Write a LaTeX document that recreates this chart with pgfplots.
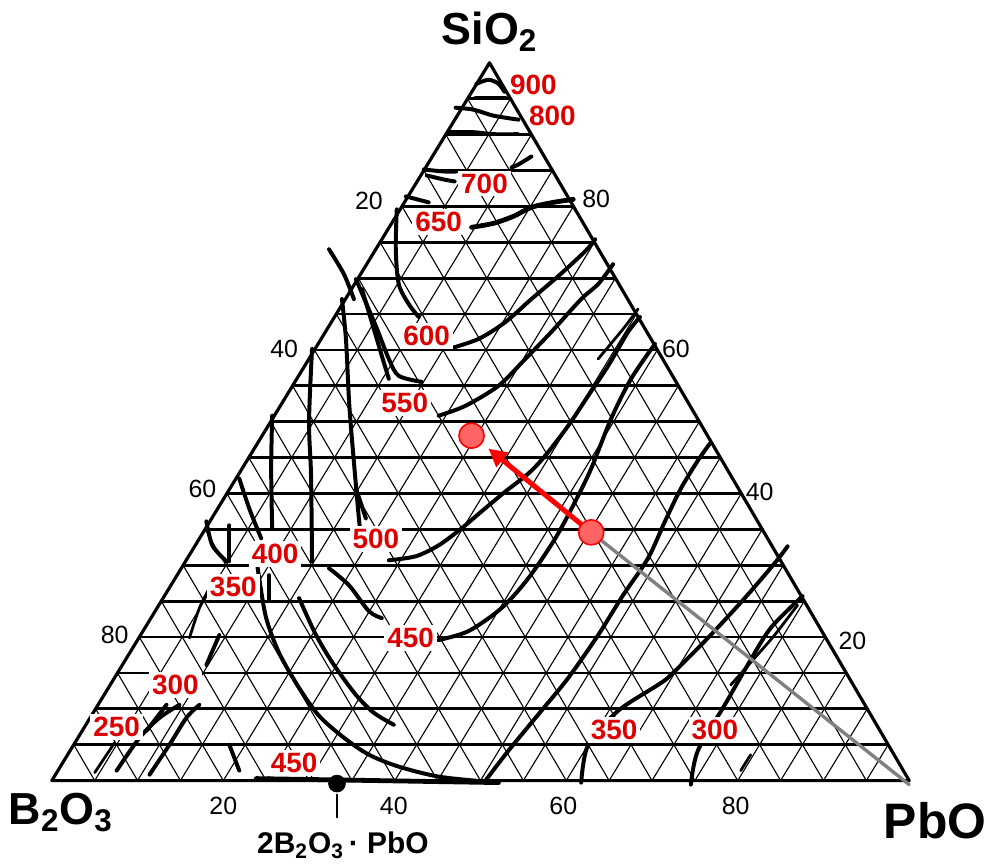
\documentclass[border=0pt]{standalone}
\usepackage{pgfplots}
\pgfplotsset{compat=1.18}
\usepackage{fontspec}
\setmainfont{Liberation Sans}
\usetikzlibrary{arrows.meta}
\definecolor{tred}{RGB}{220,0,0}
\definecolor{mfill}{RGB}{255,100,100}
\begin{document}
\begin{tikzpicture}
\begin{axis}[scale only axis, width=496.5pt, height=432.5pt,
  xmin=0, xmax=993, ymin=0, ymax=865, y dir=reverse, hide axis, clip=false,
  every axis plot/.append style={line cap=round, line join=round}]
\addplot[draw=none, forget plot] coordinates {(0,0) (993,865)};
% grid: thin diagonals, thick horizontals
\pgfplotsinvokeforeach{1,...,19}{
  \draw[black, line width=0.55pt] (axis cs:{52+43*#1},783) -- (axis cs:{491+21.05*#1},{63+36*#1});
  \draw[black, line width=0.55pt] (axis cs:{52+43*#1},783) -- (axis cs:{52+21.95*#1},{783-36*#1});
  \draw[black, line width=1.4pt] (axis cs:{52+21.95*#1},{783-36*#1}) -- (axis cs:{912-21.05*#1},{783-36*#1});
}
\draw[black, line width=1.6pt, line join=round] (axis cs:52,783) -- (axis cs:491,63) -- (axis cs:912,783) -- cycle;
% contour curves (isotherms)
\pgfplotsset{iso/.style={black, line width=2pt, smooth, tension=0.5, forget plot}}
\addplot[iso] coordinates {(478,84) (490,80) (500,84) (506,92)};
\addplot[iso] coordinates {(477,98) (507,98)};
\addplot[iso] coordinates {(457,108) (475,110) (495,116) (520,120)};
\addplot[iso, line width=1.4pt] coordinates {(450,132) (475,132) (495,134) (520,134)};
\addplot[iso] coordinates {(425,170) (445,172) (458,172)};
\addplot[iso] coordinates {(428,176) (445,180) (456,182)};
\addplot[iso] coordinates {(513,168) (520,165) (533,157)};
\addplot[iso] coordinates {(407,197) (430,203)};
\addplot[iso, line width=2.4pt] coordinates {(473,228) (495,224) (515,217) (533,208) (555,203) (575,200)};
% upper left near-vertical curves
\addplot[iso] coordinates {(398,210) (397,250) (400,285) (410,305) (420,318)};
\addplot[iso] coordinates {(357,280) (377,327) (390,360) (400,377) (423,383)};
\addplot[iso] coordinates {(363,290) (375,330) (383,357) (390,380)};
\addplot[iso] coordinates {(343,300) (347,340) (350,400) (353,440) (360,520) (363,545)};
\addplot[iso] coordinates {(313,350) (310,423) (312,477) (313,563)};
\addplot[iso] coordinates {(273,417) (272,470) (273,530)};
\addplot[iso] coordinates {(357,490) (367,520)};
\addplot[iso] coordinates {(330,250) (345,275) (355,300)};
\addplot[iso] coordinates {(240,480) (250,510) (262,540)};
% right-hand isotherms
\addplot[iso] coordinates {(450,350) (480,340) (507,323) (533,300) (560,277) (587,252) (597,240)};
\addplot[iso] coordinates {(440,417) (467,407) (500,387) (527,360) (553,333) (583,300) (600,285) (615,265)};
\addplot[iso] coordinates {(390,562) (417,558) (440,547) (463,530) (483,513) (507,493) (530,475) (547,457) (570,427) (590,397) (610,367) (630,333) (642,318)};
\addplot[iso] coordinates {(440,642) (470,633) (503,610) (530,580) (557,540) (577,503) (593,470) (613,420) (633,380) (657,345)};
\addplot[iso] coordinates {(487,783) (510,753) (543,713) (570,680) (600,637) (625,597) (650,560) (667,523) (683,490) (700,462) (712,445)};
\addplot[iso] coordinates {(583,785) (590,747) (620,713) (660,687) (673,677) (710,640) (747,600) (777,565) (790,548)};
\addplot[iso] coordinates {(693,787) (700,753) (727,707) (750,667) (773,630) (805,598)};
\addplot[iso, line width=1.4pt] coordinates {(733,687) (757,660) (777,637) (800,607)};
\addplot[iso, line width=1.4pt] coordinates {(743,773) (753,757)};
\addplot[iso, line width=1.4pt] coordinates {(600,360) (625,330) (640,310)};
% lower-left curves
\addplot[iso] coordinates {(255,545) (260,580) (267,620) (280,655) (300,690) (320,718) (345,740) (370,757) (400,769) (440,779) (487,784)};
\addplot[iso] coordinates {(300,600) (317,637) (335,667) (357,697) (375,715) (395,727)};
\addplot[iso] coordinates {(330,570) (350,587) (370,613) (383,620)};
\addplot[iso] coordinates {(230,527) (230,563)};
\addplot[iso] coordinates {(207,523) (213,547) (227,563)};
\addplot[iso] coordinates {(270,577) (270,603)};
\addplot[iso] coordinates {(207,667) (220,637)};
\addplot[iso] coordinates {(147,733) (167,707)};
\addplot[iso] coordinates {(117,773) (140,740) (160,720) (180,707)};
\addplot[iso] coordinates {(150,777) (170,747) (187,720) (200,707)};
\addplot[iso] coordinates {(230,747) (240,773)};
\addplot[iso, line width=1.4pt] coordinates {(190,640) (200,610) (210,590)};
\addplot[iso, line width=1.4pt] coordinates {(95,775) (105,760) (115,745)};
% compound line on base
\addplot[black, line width=2.4pt, forget plot] coordinates {(257,781) (500,785)};
\addplot[only marks, mark=*, mark size=4.2pt, black, forget plot] coordinates {(338,786)};
\addplot[black, line width=0.9pt, forget plot] coordinates {(338,797) (338,820)};
% gray line and red arrow
\addplot[gray, line width=1.7pt, forget plot] coordinates {(593,534) (912,787)};
\addplot[red, line width=2.5pt, -{Triangle[length=9pt, width=9pt]}, forget plot] coordinates {(593,534) (490,450)};
\addplot[only marks, mark=*, mark size=6.3pt, mark options={fill=mfill, draw=red, line width=0.8pt}, forget plot] coordinates {(473,437) (593,534)};
% labels
\node[font=\fontsize{22.5}{28}\selectfont\bfseries] at (axis cs:491,32) {SiO\textsubscript{2}};
\node[font=\fontsize{22.5}{28}\selectfont\bfseries] at (axis cs:61,815) {B\textsubscript{2}O\textsubscript{3}};
\node[font=\fontsize{25}{30}\selectfont\bfseries] at (axis cs:938,823) {PbO};
\node[font=\fontsize{15}{18}\selectfont\bfseries] at (axis cs:344,848) {2B\textsubscript{2}O\textsubscript{3}\,\textperiodcentered\ PbO};
\begin{scope}[every node/.style={font=\fontsize{12.5}{14}\selectfont}]
\node at (axis cs:370,202) {20};
\node at (axis cs:285,350) {40};
\node at (axis cs:203,490) {60};
\node at (axis cs:115,637) {80};
\node at (axis cs:598,200) {80};
\node at (axis cs:678,350) {60};
\node at (axis cs:762,493) {40};
\node at (axis cs:855,643) {20};
\node at (axis cs:224,808) {20};
\node at (axis cs:395,808) {40};
\node at (axis cs:565,808) {60};
\node at (axis cs:738,808) {80};
\end{scope}
\begin{scope}[every node/.style={font=\fontsize{14}{16}\selectfont\bfseries, text=tred, inner sep=1.5pt}]
\node at (axis cs:535,85) {900};
\node at (axis cs:554,116) {800};
\node[fill=white] at (axis cs:486,184) {700};
\node[fill=white] at (axis cs:440,223) {650};
\node[fill=white] at (axis cs:428,337) {600};
\node[fill=white] at (axis cs:406,404) {550};
\node[fill=white] at (axis cs:377,541) {500};
\node[fill=white] at (axis cs:276,556) {400};
\node[fill=white] at (axis cs:234,589) {350};
\node[fill=white] at (axis cs:412,640) {450};
\node[fill=white] at (axis cs:176,687) {300};
\node[fill=white] at (axis cs:117,729) {250};
\node[fill=white] at (axis cs:295,765) {450};
\node[fill=white] at (axis cs:616,732) {350};
\node[fill=white] at (axis cs:717,732) {300};
\end{scope}
\end{axis}
\end{tikzpicture}
\end{document}
